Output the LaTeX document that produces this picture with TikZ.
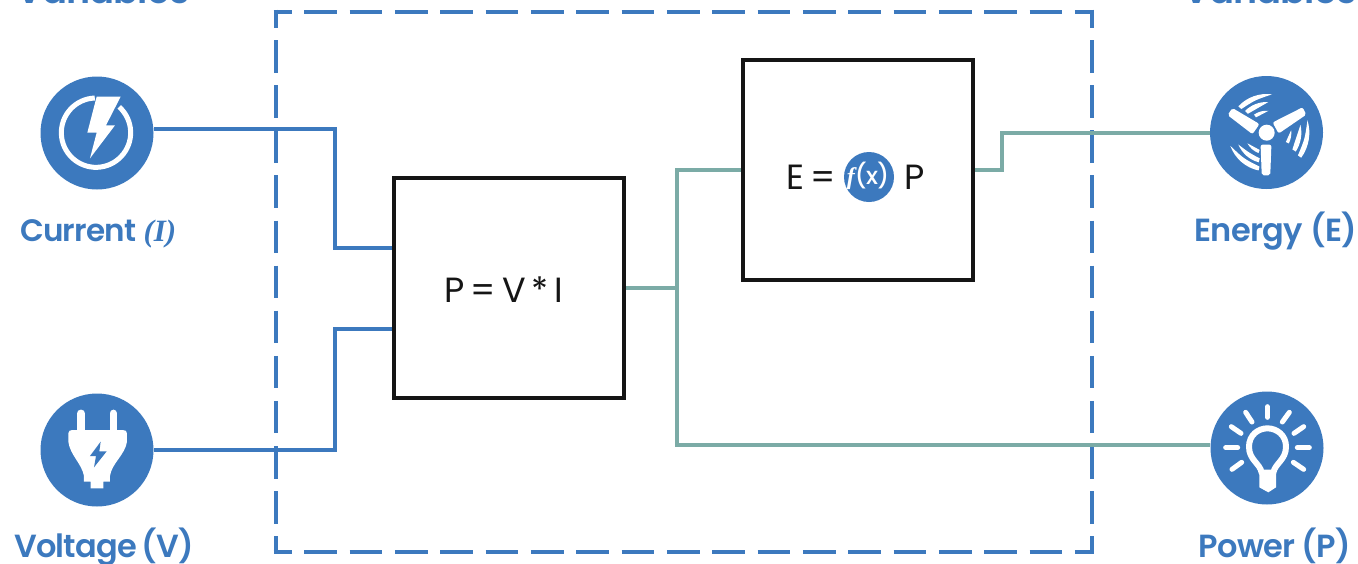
\documentclass[tikz,border=0pt]{standalone}
\usepackage{fontspec}
\setmainfont{Poppins}
\newfontfamily\lblfont[LetterSpace=-2.5,WordSpace=0.7]{Poppins SemiBold}
\newfontfamily\fxfont[LetterSpace=-3]{Poppins Medium}
\newfontfamily\serifit{Liberation Serif}
\definecolor{vblue}{HTML}{3C79BE}
\definecolor{vteal}{HTML}{7BABA6}
\definecolor{vblack}{HTML}{151515}
\newcommand{\crescent}[4]{% radius, start angle, end angle, thickness
  \fill[white] (#2:#1) arc[start angle=#2,end angle=#3,radius=#1] -- (#3:#1-#4) .. controls ({(#2+#3)/2}:#1-#4) .. (#2:#1) -- cycle;}
\tikzset{
  x=1pt,y=-1pt,
  iconcirc/.style={circle,fill=vblue,minimum size=113pt,inner sep=0pt,draw=none},
  blockbox/.style={rectangle,draw=vblack,line width=4pt,minimum width=230pt,minimum height=220pt,inner sep=0pt,fill=white},
  varlabel/.style={text=vblue,font=\lblfont\fontsize{32}{32}\selectfont,inner sep=0pt,anchor=base},
  toplabel/.style={text=vblue,font=\lblfont\fontsize{37}{37}\selectfont,inner sep=0pt,anchor=base},
  eqtext/.style={text=vblack,font=\fontsize{35}{35}\selectfont,inner sep=0pt,anchor=base},
  bluewire/.style={draw=vblue,line width=4pt},
  tealwire/.style={draw=vteal,line width=4pt},
  framehoriz/.style={draw=vblue,line width=4pt,dash pattern=on 32.7pt off 12.63pt,dash phase=14.5pt},
  framevert/.style={draw=vblue,line width=4pt,dash pattern=on 32.5pt off 12.6pt,dash phase=14.5pt},
  whitestroke/.style={draw=white,line cap=round,line join=round},
  bladeshape/.style={draw=white,fill=white,line join=round,line width=4pt},
}
\begin{document}
\begin{tikzpicture}
\useasboundingbox (0,0) rectangle (1358,563);
\clip (0,0) rectangle (1358,563);
% dashed frame
\draw[framehoriz] (273.5,11.5) -- (1093.7,11.5);
\draw[framehoriz] (273.5,552.3) -- (1093.7,552.3);
\draw[framevert] (275.5,9.5) -- (275.5,554.3);
\draw[framevert] (1091.7,9.5) -- (1091.7,554.3);
% circles and blocks
\node[iconcirc] (cur) at (97,133) {};
\node[iconcirc] (vol) at (97,450) {};
\node[iconcirc] (ene) at (1266.5,132.5) {};
\node[iconcirc] (pow) at (1267,448) {};
\node[blockbox] (pb) at (508.5,288) {};
\node[blockbox] (eb) at (858,170) {};
% connectors
\coordinate (j) at (677,288);
\coordinate (powin) at ([yshift=3pt]pow.west);
\draw[bluewire] ([yshift=4pt]cur.east) -- (335,129) -- (335,248) -- ([yshift=40pt]pb.west);
\draw[bluewire] (vol.east) -- (335,450) -- (335,329) -- ([yshift=-41pt]pb.west);
\draw[tealwire] (pb.east) -- (j);
\draw[tealwire] (j) |- (eb.west);
\draw[tealwire] (j) |- (powin);
\draw[tealwire] (eb.east) -- (1002,170) |- (ene.west);
% redraw block borders on top
\node[blockbox,fill=none] at (pb) {};
\node[blockbox,fill=none] at (eb) {};
% labels
\node[varlabel,anchor=base west] (t1) at (20,241) {{\fontsize{31}{31}\selectfont Current}\kern7pt{\serifit\bfseries\itshape\fontsize{31}{31}\selectfont (I)}};
\node[varlabel,anchor=base west] (t2) at (14,557) {Voltage (V)};
\node[varlabel,anchor=base east] (t3) at (1357,241) {Energy\kern3pt\ (E)};
\node[varlabel,anchor=base east] (t4) at (1351,557) {Power\kern2pt\ (P)};
\node[toplabel] (t5) at (103,3) {Variables};
\node[toplabel] (t6) at (1270,3) {Variables};
\node[eqtext] (e1) at (504,302) {P\,=\,V\,*\,I};
\node[eqtext] (e2) at (811,189) {E\,=};
\node[eqtext] (e3) at (914.5,189) {P};
\node[circle,fill=vblue,minimum size=50pt,inner sep=0pt] (fx) at (869,177) {};
\node[text=white,inner sep=0pt,font=\fxfont\fontsize{24}{24}\selectfont] (fxt) at (868,176) {{\serifit\itshape\bfseries f}(x)};
% current icon
\begin{scope}[shift={(0,0)},scale=1/3]
  \draw[white,line width=5pt] (288,398) ++(-92:104) arc[start angle=-92,end angle=-408,radius=104];
  \fill[white] (290,290) -- (362,290) -- (318,376) -- (345,376) -- (270,475) -- (290,398) -- (262,398) -- cycle;
\end{scope}
% voltage icon
\begin{scope}[shift={(0,380)},scale=1/3]
  \draw[whitestroke,line width=7.5pt] (243,100) -- (243,160);
  \draw[whitestroke,line width=7.5pt] (340,100) -- (340,160);
  \fill[white] (205,160) .. controls (205,153) and (210,150) .. (217,150) -- (368,150) .. controls (376,150) and (381,153) .. (381,160)
     -- (381,185) .. controls (375,225) and (335,250) .. (330,288) -- (330,305) -- (310,305) -- (310,325) -- (272,325) -- (272,305) -- (252,305) -- (252,288)
     .. controls (245,250) and (210,225) .. (205,185) -- cycle;
  \fill[vblue] (302,185) -- (270,228) -- (288,228) -- (282,262) -- (320,214) -- (298,214) -- cycle;
\end{scope}
% fan icon
\begin{scope}[shift={(1160,0)},scale=1/3]
  \fill[white] (320,398) circle (24);
  \draw[bladeshape] (219,332) -- (290,374) -- (276,394) -- (211,344) -- cycle;
  \draw[bladeshape] (431,342) -- (358,392) -- (346,370) -- (425,330) -- cycle;
  \draw[bladeshape] (311,520) -- (308,440) -- (328,440) -- (325,520) -- cycle;
  \begin{scope}[shift={(320,398)},yscale=-1]
    \crescent{116}{82}{137}{12}
    \crescent{92}{87}{135}{12}
    \crescent{66}{85}{125}{10}
    \crescent{128}{17}{-36}{12}
    \crescent{104}{13}{-33}{12}
    \crescent{74}{6}{-26}{10}
    \crescent{116}{200}{258}{12}
    \crescent{92}{203}{255}{12}
    \crescent{66}{209}{248}{10}
  \end{scope}
\end{scope}
% bulb icon
\begin{scope}[shift={(1160,380)},scale=1/3]
  \foreach \a/\b/\c/\d in {322/80/322/112, 257/97/276/126, 388/97/367/126, 214/140/243/160, 431/140/402/160, 197/203/233/203, 412/203/448/203, 216/268/245/247, 431/268/400/247}
    \draw[whitestroke,line width=5pt] (\a,\b) -- (\c,\d);
  \draw[whitestroke,line width=6pt] (305,278) .. controls (300,250) and (267,240) .. (267,200) .. controls (267,165) and (295,145) .. (322,145) .. controls (350,145) and (378,165) .. (378,200) .. controls (378,240) and (345,250) .. (340,278) -- cycle;
  \fill[white] (298,280) -- (348,280) -- (348,322) -- (325,337) -- (298,322) -- cycle;
\end{scope}
\end{tikzpicture}
\end{document}
